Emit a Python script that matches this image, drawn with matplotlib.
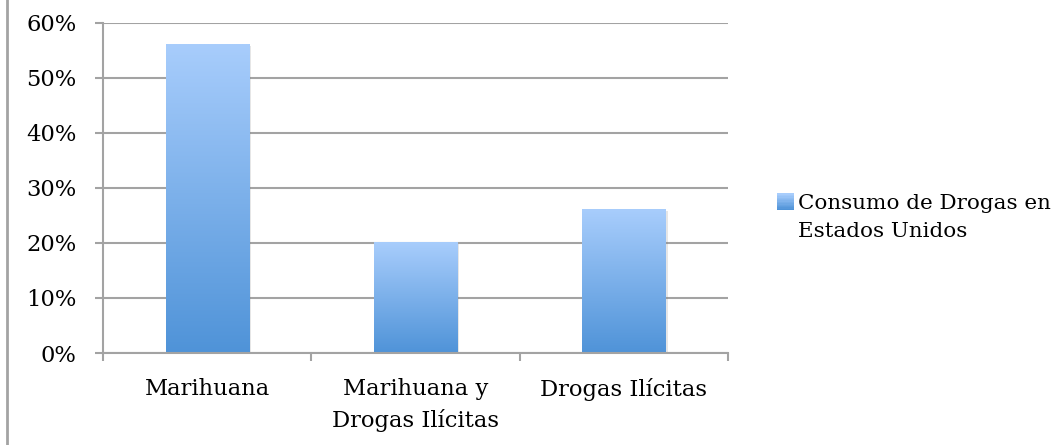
import numpy as np
import matplotlib
matplotlib.use("Agg")
import matplotlib.pyplot as plt
from matplotlib.colors import LinearSegmentedColormap
from matplotlib.lines import Line2D
from matplotlib.patches import Patch, Rectangle
from matplotlib.legend_handler import HandlerBase
import matplotlib.patheffects as pe

categories = ["Marihuana", "Marihuana y\nDrogas Ilícitas", "Drogas Ilícitas"]
values = [56, 20, 26]
yticks = [0, 10, 20, 30, 40, 50, 60]
ytick_labels = ["0%", "10%", "20%", "30%", "40%", "50%", "60%"]
series_name = "Consumo de Drogas en\nEstados Unidos"

plt.rcParams["font.family"] = ["DejaVu Serif"]
GRAY = "#a3a3a3"
TOP_C = "#a8cdfc"
BOT_C = "#4f93d8"
cmap = LinearSegmentedColormap.from_list("g", [BOT_C, TOP_C])
FS = 16.3
LFS = 15.4

fig = plt.figure(figsize=(10.62, 4.45), dpi=100)
ax = fig.add_axes([103 / 1062, 1 - 353 / 445, (728 - 103) / 1062, (353 - 22.7) / 445])

x = np.arange(len(categories))
bars = ax.bar(x, values, width=0.40, color=BOT_C, zorder=2,
              path_effects=[pe.SimplePatchShadow(offset=(1.5, -1), alpha=0.18, shadow_rgbFace="#777777"), pe.Normal()])
grad = np.linspace(0, 1, 256).reshape(-1, 1)
for b in bars:
    x0, y0 = b.get_x(), b.get_y()
    w, h = b.get_width(), b.get_height()
    ax.imshow(grad, cmap=cmap, origin="lower", aspect="auto",
              extent=[x0, x0 + w, y0, y0 + h], zorder=3, interpolation="bilinear")

ax.set_xlim(-0.5, len(categories) - 0.5)
ax.set_ylim(0, 60)
ax.set_yticks(yticks)
ax.set_yticklabels(ytick_labels, fontsize=FS)
ax.set_xticks(x)
ax.set_xticklabels(categories, fontsize=FS, linespacing=1.5)
ax.set_xticks(np.arange(len(categories) + 1) - 0.5, minor=True)
ax.tick_params(axis="x", which="major", length=0, pad=18)
ax.tick_params(axis="x", which="minor", length=6, width=1.5, color=GRAY)
ax.tick_params(axis="y", length=6, width=1.5, color=GRAY, pad=13)
ax.yaxis.grid(True, color=GRAY, linewidth=1.5, zorder=0)
ax.set_axisbelow(True)
for s in ["top", "right"]:
    ax.spines[s].set_visible(False)
for s in ["left", "bottom"]:
    ax.spines[s].set_color(GRAY)
    ax.spines[s].set_linewidth(1.5)
ax.spines["bottom"].set_zorder(4)


class GradientSquare(HandlerBase):
    def create_artists(self, legend, orig_handle, xdescent, ydescent, width, height, fontsize, trans):
        n = 12
        side = height
        y_shift = 0.74 * fontsize
        arts = []
        for i in range(n):
            c = cmap(i / (n - 1))
            r = Rectangle((-xdescent, -ydescent + y_shift + side * i / n), side, side / n + 0.3,
                          facecolor=c, edgecolor="none", transform=trans)
            arts.append(r)
        return arts


handle = Patch(facecolor="#7fb0ec", edgecolor="none")
leg = fig.legend([handle], [series_name], loc="upper left",
                 bbox_to_anchor=(777 / 1062, 1 - 194 / 445), frameon=False,
                 fontsize=LFS, handlelength=0.85, handleheight=0.85, handletextpad=0.15,
                 borderpad=0, borderaxespad=0, handler_map={Patch: GradientSquare()})
for t in leg.get_texts():
    t.set_linespacing(1.6)

fig.add_artist(Line2D([6.5 / 1062, 6.5 / 1062], [0, 1], transform=fig.transFigure,
                      color=GRAY, linewidth=2))

fig.savefig("out.png", dpi=100)
